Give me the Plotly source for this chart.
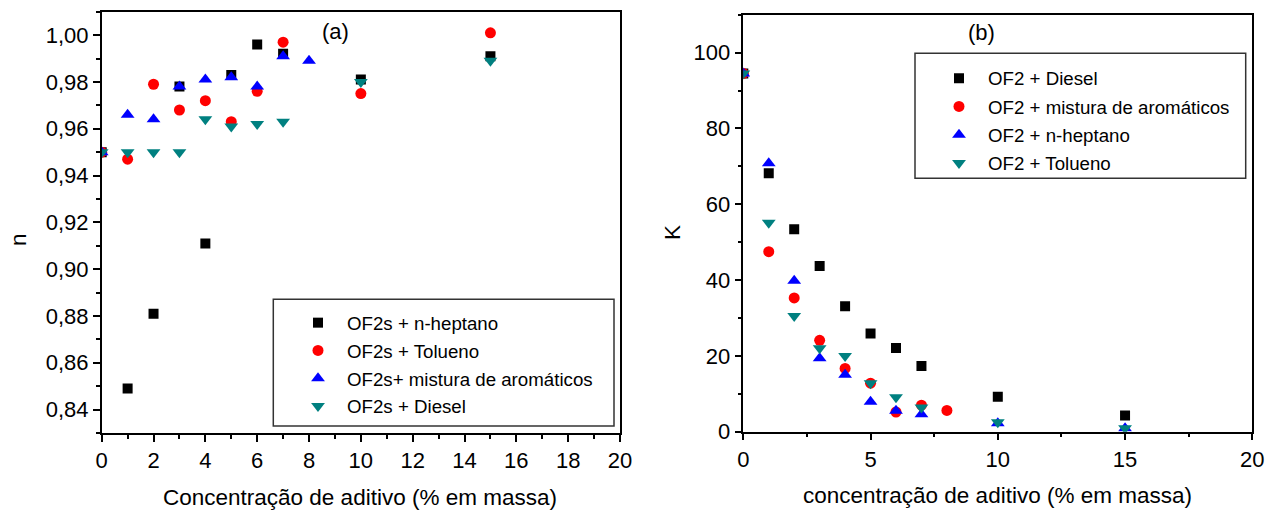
import plotly.graph_objects as go

# ---------- Panel (a): n vs concentration ----------
a_hep_x = [0, 1, 2, 3, 4, 5, 6, 7, 10, 15]
a_hep_y = [0.950, 0.849, 0.881, 0.978, 0.911, 0.983, 0.996, 0.992, 0.981, 0.991]
a_tol_x = [0, 1, 2, 3, 4, 5, 6, 7, 10, 15]
a_tol_y = [0.950, 0.947, 0.979, 0.968, 0.972, 0.963, 0.976, 0.997, 0.975, 1.001]
a_aro_x = [0, 1, 2, 3, 4, 5, 6, 7, 8]
a_aro_y = [0.950, 0.966, 0.964, 0.978, 0.981, 0.982, 0.978, 0.991, 0.989]
a_die_x = [0, 1, 2, 3, 4, 5, 6, 7, 10, 15]
a_die_y = [0.950, 0.950, 0.950, 0.950, 0.964, 0.961, 0.962, 0.963, 0.980, 0.989]
a_names = ["OF2s + n-heptano", "OF2s + Tolueno", "OF2s+ mistura de aromáticos", "OF2s + Diesel"]

# ---------- Panel (b): K vs concentration ----------
b_die_x = [0, 1, 2, 3, 4, 5, 6, 7, 10, 15]
b_die_y = [94.5, 68.2, 53.4, 43.7, 33.1, 25.9, 22.1, 17.3, 9.2, 4.3]
b_aro_x = [0, 1, 2, 3, 4, 5, 6, 7, 8]
b_aro_y = [94.5, 47.5, 35.3, 24.1, 16.7, 12.8, 5.2, 7.0, 5.6]
b_hep_x = [0, 1, 2, 3, 4, 5, 6, 7, 10, 15]
b_hep_y = [94.5, 70.8, 39.8, 19.4, 15.0, 7.9, 5.5, 4.6, 2.2, 0.9]
b_tol_x = [0, 1, 2, 3, 4, 5, 6, 7, 10, 15]
b_tol_y = [94.5, 55.1, 30.5, 22.0, 20.0, 12.8, 9.1, 6.4, 2.5, 0.9]
b_names = ["OF2 + Diesel", "OF2 + mistura de aromáticos", "OF2 + n-heptano", "OF2 + Tolueno"]

colors = ["#000000", "#FF0000", "#0000FF", "#008080"]
symbols = ["square", "circle", "triangle-up", "triangle-down"]
sizes = [10, 11, 12, 12]

W, H = 1265, 512
FONT = "Liberation Sans, Arial, Helvetica, sans-serif"

def px(x):
    return x / W

def py(y):
    return (H - y) / H

fig = go.Figure()

a_series = [(a_hep_x, a_hep_y), (a_tol_x, a_tol_y), (a_aro_x, a_aro_y), (a_die_x, a_die_y)]
for i, (xs, ys) in enumerate(a_series):
    fig.add_trace(go.Scatter(
        x=xs, y=ys, mode="markers", name=a_names[i],
        marker=dict(symbol=symbols[i], color=colors[i], size=sizes[i], line=dict(width=0)),
        xaxis="x", yaxis="y", legend="legend", legendgroup="a%d" % i,
    ))

b_series = [(b_die_x, b_die_y), (b_aro_x, b_aro_y), (b_hep_x, b_hep_y), (b_tol_x, b_tol_y)]
for i, (xs, ys) in enumerate(b_series):
    fig.add_trace(go.Scatter(
        x=xs, y=ys, mode="markers", name=b_names[i],
        marker=dict(symbol=symbols[i], color=colors[i], size=sizes[i], line=dict(width=0)),
        xaxis="x2", yaxis="y2", legend="legend2", legendgroup="b%d" % i,
    ))

axis_common = dict(
    showline=True, linecolor="black", linewidth=1.5, mirror=True,
    ticks="outside", ticklen=7, tickwidth=1.5, tickcolor="black",
    showgrid=False, zeroline=False, automargin=False,
    tickfont=dict(family=FONT, size=22, color="black"),
)

def ann(text, x, y, size=22, angle=0):
    return dict(text=text, x=px(x), y=py(y), xref="paper", yref="paper",
                xanchor="center", yanchor="middle", showarrow=False,
                textangle=angle, font=dict(family=FONT, size=size, color="black"))

fig.update_layout(
    width=W, height=H,
    margin=dict(l=0, r=0, t=0, b=0, autoexpand=False),
    paper_bgcolor="white", plot_bgcolor="white",
    separators=",.",
    font=dict(family=FONT, color="black"),
    xaxis=dict(domain=[px(101.7), px(620)], range=[0, 20], dtick=2, tick0=0,
               minor=dict(dtick=1, ticklen=4, tickwidth=1.5, tickcolor="black", ticks="outside"),
               anchor="y", **axis_common),
    yaxis=dict(domain=[py(433), py(11.7)], range=[0.83, 1.01], dtick=0.02, tick0=0.84,
               tickformat=".2f",
               minor=dict(dtick=0.01, ticklen=4, tickwidth=1.5, tickcolor="black", ticks="outside"),
               anchor="x", **axis_common),
    xaxis2=dict(domain=[px(743.3), px(1252.3)], range=[0, 20], dtick=5, tick0=0,
                minor=dict(dtick=2.5, ticklen=4, tickwidth=1.5, tickcolor="black", ticks="outside"),
                anchor="y2", **axis_common),
    yaxis2=dict(domain=[py(431.7), py(14.7)], range=[0, 110], dtick=20, tick0=0,
                tickvals=[0, 20, 40, 60, 80, 100],
                minor=dict(dtick=10, ticklen=4, tickwidth=1.5, tickcolor="black", ticks="outside"),
                anchor="x2", **axis_common),
    legend=dict(x=px(289), y=py(304), xanchor="left", yanchor="top",
                bgcolor="rgba(0,0,0,0)", borderwidth=0, tracegroupgap=0.5, itemwidth=48,
                font=dict(family=FONT, size=18.7, color="black")),
    legend2=dict(x=px(930), y=py(59.5), xanchor="left", yanchor="top",
                 bgcolor="rgba(0,0,0,0)", borderwidth=0, tracegroupgap=1, itemwidth=48,
                 font=dict(family=FONT, size=18.7, color="black")),
    shapes=[
        dict(type="rect", xref="paper", yref="paper",
             x0=px(273.3), x1=px(614), y0=py(426), y1=py(299.3),
             line=dict(color="#333333", width=1.5)),
        dict(type="rect", xref="paper", yref="paper",
             x0=px(915), x1=px(1245.7), y0=py(178.3), y1=py(53.3),
             line=dict(color="#333333", width=1.5)),
    ],
    annotations=[
        ann("(a)", 335, 31, 22),
        ann("(b)", 981, 32, 22),
        ann("Concentração de aditivo (% em massa)", 360, 497, 22.5),
        ann("concentração de aditivo (% em massa)", 997, 495, 22.5),
        ann("n", 18, 240, 22.5, -90),
        ann("K", 672, 233, 22.5, -90),
    ],
)

fig.write_html("out.html")
